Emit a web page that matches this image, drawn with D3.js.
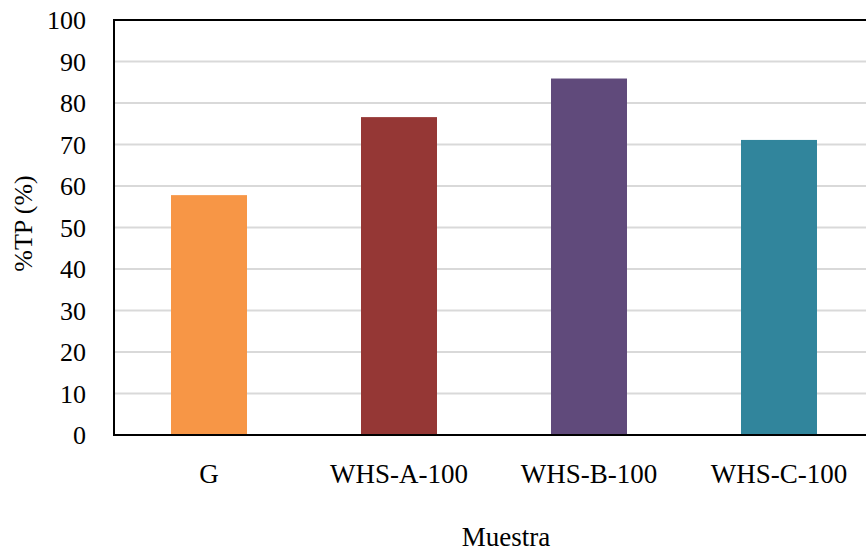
<!DOCTYPE html>
<html>
<head>
<meta charset="utf-8">
<script src="https://cdn.jsdelivr.net/npm/d3@7"></script>
<style>
  html, body { margin: 0; padding: 0; background: #fff; }
  svg { display: block; font-family: "Liberation Serif", "Times New Roman", serif; }
</style>
</head>
<body>
<svg id="chart" width="866" height="554"></svg>
<script>
// Sample categories and their %TP values
const categories = ["G", "WHS-A-100", "WHS-B-100", "WHS-C-100"];
const values = [57.8, 76.6, 85.9, 71.1];
const barColors = ["#F79646", "#953735", "#604A7B", "#31859C"];
const yTicks = [0, 10, 20, 30, 40, 50, 60, 70, 80, 90, 100];
const xTitle = "Muestra";
const yTitle = "%TP (%)";

const svg = d3.select("#chart");
const plotLeft = 114, plotRight = 874, plotTop = 20, plotBottom = 435;

const x = d3.scaleBand()
  .domain(categories)
  .range([plotLeft, plotRight])
  .paddingInner(0.6)
  .paddingOuter(0.3);

const y = d3.scaleLinear().domain([0, 100]).range([plotBottom, plotTop]);

// horizontal gridlines
svg.append("g")
  .selectAll("line")
  .data(yTicks.filter(t => t > 0 && t < 100))
  .join("line")
  .attr("x1", plotLeft).attr("x2", plotRight)
  .attr("y1", d => y(d)).attr("y2", d => y(d))
  .attr("stroke", "#d9d9d9")
  .attr("stroke-width", 2);

// bars
svg.append("g")
  .selectAll("rect")
  .data(categories)
  .join("rect")
  .attr("x", d => x(d))
  .attr("width", x.bandwidth())
  .attr("y", (d, i) => y(values[i]))
  .attr("height", (d, i) => y(0) - y(values[i]))
  .attr("fill", (d, i) => barColors[i]);

// plot frame: top, left and bottom edges
const frame = svg.append("g").attr("stroke", "#000").attr("stroke-width", 2).attr("fill", "none");
frame.append("path").attr("d", `M${plotRight},${y(100)}H${plotLeft}V${y(0)}H${plotRight}`);

// y tick labels
svg.append("g")
  .selectAll("text")
  .data(yTicks)
  .join("text")
  .attr("x", 86)
  .attr("y", d => y(d))
  .attr("dy", "0.35em")
  .attr("text-anchor", "end")
  .attr("font-size", 26)
  .attr("fill", "#000")
  .text(d => d);

// category labels
svg.append("g")
  .selectAll("text")
  .data(categories)
  .join("text")
  .attr("x", d => x(d) + x.bandwidth() / 2)
  .attr("y", 483)
  .attr("text-anchor", "middle")
  .attr("font-size", 27)
  .attr("fill", "#000")
  .text(d => d);

// axis titles
svg.append("text")
  .attr("x", 506).attr("y", 546)
  .attr("text-anchor", "middle")
  .attr("font-size", 27)
  .text(xTitle);

svg.append("text")
  .attr("transform", `translate(32,${(plotTop + plotBottom) / 2 - 4}) rotate(-90)`)
  .attr("text-anchor", "middle")
  .attr("font-size", 26)
  .text(yTitle);
</script>
</body>
</html>
